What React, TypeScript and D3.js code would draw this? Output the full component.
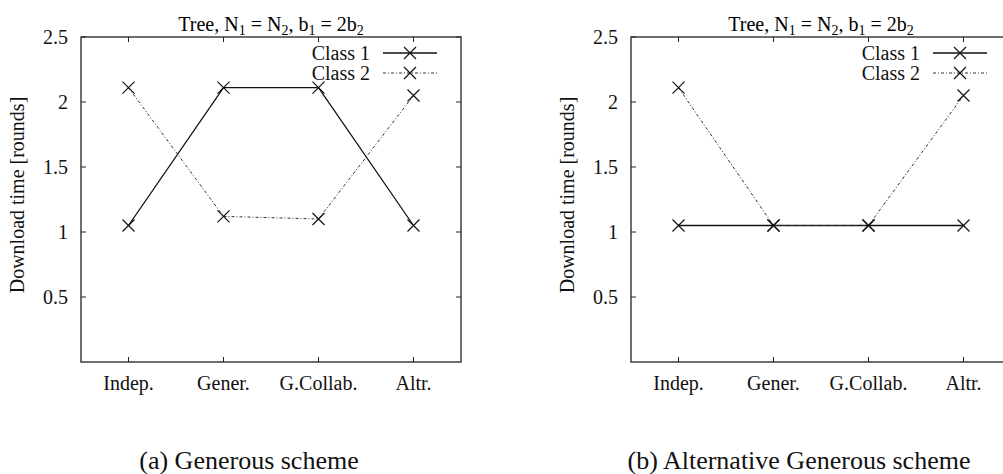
import React, { useRef, useEffect } from 'react';
import * as d3 from 'd3';

const categories = ['Indep.', 'Gener.', 'G.Collab.', 'Altr.'];
const yTicks = [0.5, 1, 1.5, 2, 2.5];
const seriesNames = ['Class 1', 'Class 2'];

// (a) Generous scheme
const generousClass1 = [1.05, 2.11, 2.11, 1.05];
const generousClass2 = [2.11, 1.12, 1.1, 2.05];

// (b) Alternative Generous scheme
const altClass1 = [1.05, 1.05, 1.05, 1.05];
const altClass2 = [2.11, 1.05, 1.05, 2.05];

const captions = ['(a) Generous scheme', '(b) Alternative Generous scheme'];

const FONT = '"Liberation Serif", "Times New Roman", serif';

const App = () => {
  const chartRef = useRef<SVGSVGElement>(null);

  useEffect(() => {
    const width = 1003;
    const height = 474;
    const plotW = 380;
    const top = 37;
    const bottom = 362;

    const svg = d3
      .select(chartRef.current)
      .attr('width', width)
      .attr('height', height)
      .style('font-family', FONT);

    svg.selectAll('*').remove();

    const styles = [
      { stroke: '#111', width: 1.3, dash: null },
      { stroke: '#333', width: 1, dash: '3,2,1,2' },
    ];

    const drawPanel = (left: number, c1: number[], c2: number[], caption: string) => {
      const g = svg.append('g').attr('transform', `translate(${left},0)`);

      const x = d3.scalePoint<string>().domain(categories).range([0, plotW]).padding(0.5);
      const y = d3.scaleLinear().domain([0, 2.5]).range([bottom, top]);

      // title
      const title = g
        .append('text')
        .attr('x', plotW / 2)
        .attr('y', 31)
        .attr('text-anchor', 'middle')
        .attr('font-size', 20);
      const parts: [string, boolean][] = [
        ['Tree, N', false], ['1', true], [' = N', false], ['2', true],
        [', b', false], ['1', true], [' = 2b', false], ['2', true],
      ];
      parts.forEach(([t, sub]) => {
        title
          .append('tspan')
          .attr('font-size', sub ? 14 : 20)
          .attr('baseline-shift', sub ? '-25%' : null)
          .text(t);
      });

      // ticks (mirrored, inward)
      yTicks.forEach((t) => {
        g.append('line').attr('x1', 0).attr('x2', 5).attr('y1', y(t)).attr('y2', y(t)).attr('stroke', '#222');
        g.append('line').attr('x1', plotW - 5).attr('x2', plotW).attr('y1', y(t)).attr('y2', y(t)).attr('stroke', '#222');
        g.append('text')
          .attr('x', -13)
          .attr('y', y(t))
          .attr('dy', '0.35em')
          .attr('text-anchor', 'end')
          .attr('font-size', 20)
          .attr('fill', '#111')
          .text(String(t));
      });

      categories.forEach((c) => {
        const cx = x(c) as number;
        g.append('line').attr('x1', cx).attr('x2', cx).attr('y1', bottom).attr('y2', bottom - 5).attr('stroke', '#222');
        g.append('line').attr('x1', cx).attr('x2', cx).attr('y1', top).attr('y2', top + 5).attr('stroke', '#222');
        g.append('text')
          .attr('x', cx)
          .attr('y', 390)
          .attr('text-anchor', 'middle')
          .attr('font-size', 20)
          .attr('fill', '#111')
          .text(c);
      });

      // frame
      g.append('rect')
        .attr('x', 0)
        .attr('y', top)
        .attr('width', plotW)
        .attr('height', bottom - top)
        .attr('fill', 'none')
        .attr('stroke', '#222')
        .attr('stroke-width', 1.3);

      // y label
      g.append('text')
        .attr('transform', `translate(-57,195) rotate(-90)`)
        .attr('text-anchor', 'middle')
        .attr('font-size', 20)
        .attr('fill', '#111')
        .text('Download time [rounds]');

      const line = d3
        .line<number>()
        .x((_, i) => x(categories[i]) as number)
        .y((d) => y(d));

      const cross = (sel: any, cx: number, cy: number) => {
        const r = 6;
        sel.append('path')
          .attr('d', `M${cx - r},${cy - r}L${cx + r},${cy + r}M${cx - r},${cy + r}L${cx + r},${cy - r}`)
          .attr('stroke', '#111')
          .attr('stroke-width', 1.2)
          .attr('fill', 'none');
      };

      [c1, c2].forEach((vals, si) => {
        const st = styles[si];
        g.append('path')
          .datum(vals)
          .attr('d', line)
          .attr('fill', 'none')
          .attr('stroke', st.stroke)
          .attr('stroke-width', st.width)
          .attr('stroke-dasharray', st.dash);
        vals.forEach((v, i) => cross(g, x(categories[i]) as number, y(v)));

        // legend
        const ly = 53 + si * 20;
        g.append('text')
          .attr('x', 289)
          .attr('y', ly)
          .attr('dy', '0.35em')
          .attr('text-anchor', 'end')
          .attr('font-size', 20)
          .attr('fill', '#111')
          .text(seriesNames[si]);
        g.append('line')
          .attr('x1', 302)
          .attr('x2', 356)
          .attr('y1', ly)
          .attr('y2', ly)
          .attr('stroke', st.stroke)
          .attr('stroke-width', st.width)
          .attr('stroke-dasharray', st.dash);
        cross(g, 329, ly);
      });

      // caption
      svg.append('text')
        .attr('x', left + plotW / 2 - 22)
        .attr('y', 469)
        .attr('text-anchor', 'middle')
        .attr('font-size', 26)
        .attr('fill', '#111')
        .text(caption);
    };

    drawPanel(81, generousClass1, generousClass2, captions[0]);
    drawPanel(631, altClass1, altClass2, captions[1]);
  }, []);

  return (
    <div style={{ position: 'absolute', left: 0, top: 0 }}>
      <svg ref={chartRef} style={{ display: 'block' }}></svg>
    </div>
  );
};

export default App;
